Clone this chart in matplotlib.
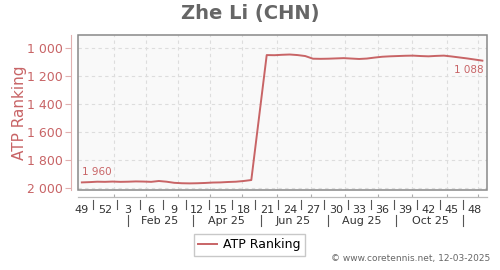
import matplotlib
matplotlib.use("Agg")
import matplotlib.pyplot as plt
from matplotlib.patches import Rectangle
from matplotlib.lines import Line2D

# weekly ATP ranking, week 49/2024 .. week 49/2025 (index = weeks since start)
WEEK_NUMS = [49, 50, 51, 52] + list(range(1, 50))
RANK_IDX = list(range(0, 23)) + list(range(24, 53))
RANK_VALUES = [
    1960, 1958, 1955, 1956, 1954, 1956, 1955, 1953, 1954, 1956, 1950, 1955,
    1963, 1966, 1967, 1966, 1964, 1961, 1960, 1957, 1955, 1950, 1943,
    1048, 1049, 1046, 1044, 1048, 1055, 1074, 1075, 1074, 1072, 1070, 1073,
    1076, 1073, 1066, 1060, 1057, 1055, 1053, 1052, 1055, 1057, 1054, 1052,
    1058, 1065, 1072, 1080, 1088,
]
Y_TICKS = [1000, 1200, 1400, 1600, 1800, 2000]
MONTH_LABELS = ["Feb 25", "Apr 25", "Jun 25", "Aug 25", "Oct 25"]
MONTH_CENTERS = [10.1, 18.8, 27.4, 36.4, 45.2]
MONTH_SEPS = [5.97, 14.4, 23.2, 31.9, 40.8, 49.5]
GRID_X = [4.16, 8.3, 12.5, 16.6, 20.8, 25.3, 29.7, 34.2, 38.4, 42.9, 47.4, 51.4]

RED = "#c86466"
GRAY_TXT = "#333333"


def fmt(v):
    return f"{v:,}".replace(",", " ")


fig = plt.figure(figsize=(5, 2.7), dpi=100)
ax = fig.add_axes([0.156, 0.296, 0.818, 0.574])
ax.set_facecolor("#f9f9f9")

ax.plot(RANK_IDX, RANK_VALUES, color=RED, lw=1.4, label="ATP Ranking")

ax.set_xlim(-0.5, 52.6)
ax.set_ylim(2015, 905)

# frame box
ax.add_patch(Rectangle((0, 0), 1, 1, transform=ax.transAxes, fill=False,
                       edgecolor="#888888", lw=1.1, clip_on=False, zorder=5))
ax.spines["top"].set_visible(False)
ax.spines["right"].set_visible(False)
ax.spines["left"].set_position(("outward", 5))
ax.spines["left"].set_color("#e0b0b0")
ax.spines["bottom"].set_position(("outward", 5))
ax.spines["bottom"].set_color("#bbbbbb")
ax.spines["bottom"].set_linewidth(0.9)

# y axis
ax.set_yticks(Y_TICKS)
ax.set_yticklabels([fmt(v) for v in Y_TICKS])
ax.tick_params(axis="y", colors="#e0b0b0", labelcolor=RED, labelsize=9, length=4, pad=2)
ax.set_ylabel("ATP Ranking", color=RED, fontsize=11)
ax.yaxis.set_label_coords(-0.125, 0.5)

# x axis: gridline ticks + week labels
ax.set_xticks(GRID_X)
ax.set_xticklabels([])
ax.tick_params(axis="x", which="major", colors="#aaaaaa", length=2, direction="in")
label_idx = list(range(0, 53, 3))
ax.set_xticks(label_idx, minor=True)
ax.set_xticklabels([str(WEEK_NUMS[i]) for i in label_idx], minor=True)
ax.tick_params(axis="x", which="minor", length=0, labelsize=8, labelcolor=GRAY_TXT, pad=6)

ax.grid(True, which="major", color="#dddddd", ls=(0, (3, 3)), lw=0.8)
ax.set_axisbelow(True)

trans = ax.get_xaxis_transform()
for i in label_idx[:-1]:
    ax.add_line(Line2D([i + 1.5, i + 1.5], [-0.065, -0.123], transform=trans,
                       color="#555555", lw=0.8, clip_on=False))
for s in MONTH_SEPS:
    ax.add_line(Line2D([s, s], [-0.161, -0.232], transform=trans,
                       color="#555555", lw=0.8, clip_on=False))
for c, lab in zip(MONTH_CENTERS, MONTH_LABELS):
    ax.text(c, -0.197, lab, transform=trans, ha="center", va="center",
            fontsize=8, color=GRAY_TXT)

# first / last value labels
ax.annotate(fmt(RANK_VALUES[0]), (RANK_IDX[0], RANK_VALUES[0]), xytext=(0, 4),
            textcoords="offset points", ha="left", va="bottom", fontsize=7.5, color=RED)
ax.annotate(fmt(RANK_VALUES[-1]), (RANK_IDX[-1], RANK_VALUES[-1]), xytext=(1, -3),
            textcoords="offset points", ha="right", va="top", fontsize=7.5, color=RED)

fig.suptitle("Zhe Li (CHN)", x=0.5, y=0.985, fontsize=14, fontweight="bold", color="#666666")

fig.legend(loc="center", bbox_to_anchor=(0.499, 0.093), fontsize=9, frameon=True,
           fancybox=False, edgecolor="#bbbbbb", handlelength=1.5, handletextpad=0.5,
           borderpad=0.35)

fig.text(0.98, 0.025, "\u00a9 www.coretennis.net, 12-03-2025", ha="right", va="bottom",
         fontsize=6.5, color="#666666")

fig.savefig("out.png", dpi=100)
